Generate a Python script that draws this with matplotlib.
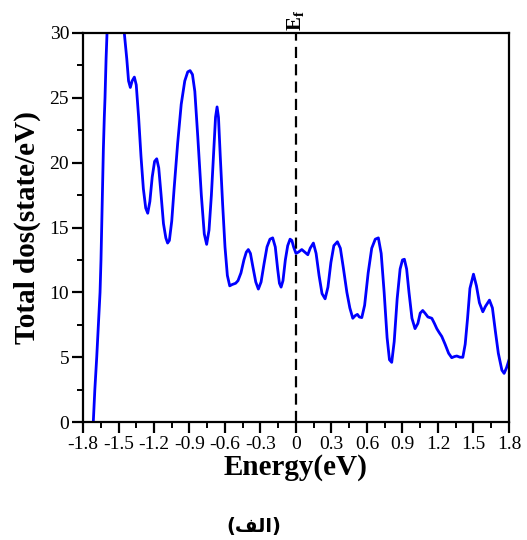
import numpy as np
import matplotlib
matplotlib.use("Agg")
import matplotlib.pyplot as plt
from matplotlib.ticker import MultipleLocator

# Total DOS curve (eV, states/eV)
energy = [-1.713, -1.70, -1.684, -1.67, -1.656, -1.648, -1.642, -1.635, -1.628, -1.62,
          -1.614, -1.605, -1.595, -1.57, -1.52, -1.48, -1.451, -1.43, -1.415, -1.40,
          -1.385, -1.366, -1.35, -1.33, -1.31, -1.29, -1.27, -1.253, -1.235, -1.215,
          -1.195, -1.177, -1.16, -1.14, -1.12, -1.10, -1.085, -1.07, -1.05, -1.03,
          -1.00, -0.97, -0.94, -0.915, -0.895, -0.875, -0.855, -0.83, -0.80, -0.775,
          -0.755, -0.735, -0.715, -0.695, -0.68, -0.667, -0.655, -0.64, -0.62, -0.60,
          -0.58, -0.56, -0.54, -0.51, -0.49, -0.465, -0.44, -0.42, -0.403, -0.385,
          -0.365, -0.34, -0.318, -0.295, -0.27, -0.245, -0.22, -0.197, -0.175, -0.155,
          -0.14, -0.126, -0.11, -0.09, -0.07, -0.05, -0.035, -0.02, 0.0, 0.02,
          0.049, 0.075, 0.10, 0.12, 0.147, 0.17, 0.195, 0.22, 0.246, 0.27,
          0.295, 0.32, 0.35, 0.375, 0.40, 0.43, 0.455, 0.48, 0.50, 0.519,
          0.535, 0.556, 0.58, 0.61, 0.64, 0.67, 0.696, 0.72, 0.745, 0.77,
          0.79, 0.809, 0.83, 0.855, 0.88, 0.90, 0.916, 0.935, 0.955, 0.98,
          1.006, 1.03, 1.05, 1.071, 1.09, 1.115, 1.148, 1.17, 1.19, 1.21,
          1.232, 1.26, 1.29, 1.316, 1.34, 1.359, 1.385, 1.41, 1.43, 1.45,
          1.47, 1.50, 1.525, 1.55, 1.579, 1.60, 1.635, 1.66, 1.685, 1.71,
          1.74, 1.759, 1.78, 1.80]
total_dos = [0.0, 2.5, 5.0, 7.5, 10.0, 12.5, 15.0, 18.0, 21.0, 23.5,
             25.0, 28.0, 30.5, 34.0, 36.0, 33.5, 30.0, 28.0, 26.3, 25.8,
             26.3, 26.6, 26.0, 23.5, 20.5, 18.0, 16.5, 16.1, 17.0, 18.9,
             20.1, 20.3, 19.6, 17.5, 15.3, 14.2, 13.8, 14.0, 15.5, 18.0,
             21.5, 24.5, 26.3, 27.0, 27.1, 26.8, 25.5, 22.0, 17.5, 14.5,
             13.7, 14.8, 17.5, 21.0, 23.5, 24.3, 23.5, 20.5, 16.8, 13.5,
             11.3, 10.5, 10.6, 10.7, 10.9, 11.5, 12.5, 13.1, 13.3, 13.0,
             12.0, 10.8, 10.25, 10.8, 12.2, 13.5, 14.1, 14.2, 13.5, 11.8,
             10.7, 10.4, 10.9, 12.5, 13.6, 14.1, 14.0, 13.5, 13.0, 13.1,
             13.3, 13.1, 12.9, 13.4, 13.8, 13.0, 11.3, 9.9, 9.5, 10.4,
             12.3, 13.6, 13.9, 13.4, 11.9, 10.0, 8.8, 8.0, 8.2, 8.3,
             8.1, 8.05, 9.0, 11.5, 13.4, 14.1, 14.2, 13.0, 10.0, 6.5,
             4.8, 4.6, 6.2, 9.5, 11.8, 12.5, 12.55, 11.8, 10.0, 8.0,
             7.2, 7.6, 8.4, 8.6, 8.4, 8.1, 8.0, 7.6, 7.2, 6.9,
             6.6, 6.0, 5.3, 4.96, 5.05, 5.09, 5.0, 4.99, 6.0, 8.0,
             10.3, 11.4, 10.5, 9.2, 8.5, 8.9, 9.4, 8.8, 7.0, 5.3,
             4.0, 3.75, 4.2, 4.78]

x_ticks = [-1.8, -1.5, -1.2, -0.9, -0.6, -0.3, 0.0, 0.3, 0.6, 0.9, 1.2, 1.5, 1.8]
x_tick_labels = ["-1.8", "-1.5", "-1.2", "-0.9", "-0.6", "-0.3", "0",
                 "0.3", "0.6", "0.9", "1.2", "1.5", "1.8"]
y_ticks = [0, 5, 10, 15, 20, 25, 30]
fermi_level = 0.0

# caption "(alef-lam-feh)", written with presentation forms so it joins
caption = "(\uFED2\uFEDF\uFE8D)"

serif = "Liberation Serif"
plt.rcParams["mathtext.fontset"] = "custom"
plt.rcParams["mathtext.rm"] = serif
plt.rcParams["mathtext.bf"] = serif + ":bold"

fig = plt.figure(figsize=(5.27, 5.40), dpi=100)
ax = fig.add_axes([0.1575, 0.2185, 0.8083, 0.7204])

ax.plot(energy, total_dos, color="#0000ff", lw=2.0)
ax.plot([fermi_level, fermi_level], [0, 30], color="black", lw=1.6,
        linestyle=(0, (5, 2.8)))

ax.set_xlim(-1.8, 1.8)
ax.set_ylim(0, 30)

ax.set_xticks(x_ticks)
ax.set_xticklabels(x_tick_labels, fontfamily=serif, fontsize=14)
ax.set_yticks(y_ticks)
ax.set_yticklabels([str(v) for v in y_ticks], fontfamily=serif, fontsize=14)
ax.xaxis.set_minor_locator(MultipleLocator(0.15))
ax.yaxis.set_minor_locator(MultipleLocator(2.5))

ax.tick_params(which="major", direction="out", length=8, width=1.6, pad=2)
ax.tick_params(which="minor", direction="out", length=4, width=1.4)
for s in ax.spines.values():
    s.set_linewidth(1.6)

ax.set_xlabel("Energy(eV)", fontfamily=serif, fontweight="bold", fontsize=21, labelpad=1)
ax.set_ylabel("Total dos(state/eV)", fontfamily=serif, fontweight="bold", fontsize=21, labelpad=6)

# E_f marker on top of the dashed line
ax.text(fermi_level, 30.15, r"$\mathbf{E_f}$", rotation=90, ha="center", va="bottom",
        fontsize=15)

fig.text(0.482, 0.008, caption, ha="center", va="bottom", fontsize=14,
         fontweight="bold", family=["DejaVu Sans"])

fig.savefig("out.png", dpi=100)
